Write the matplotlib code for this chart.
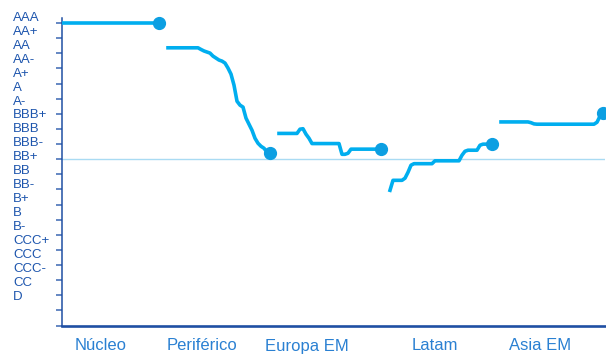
import matplotlib.pyplot as plt
from matplotlib.transforms import blended_transform_factory

# rating scale, notch 0 = AAA ... notch 20 = D
ratings = ["AAA", "AA+", "AA", "AA-", "A+", "A", "A-", "BBB+", "BBB", "BBB-",
           "BB+", "BB", "BB-", "B+", "B", "B-", "CCC+", "CCC", "CCC-", "CC", "D"]
regions = ["Núcleo", "Periférico", "Europa EM", "Latam", "Asia EM"]

# average rating (in notches) of each group, same number of points per group
nucleo = [0.0] * 35
periferico = [1.64, 1.64, 1.64, 1.64, 1.64, 1.64, 1.64, 1.64, 1.64, 1.64,
              1.64, 1.75, 1.85, 1.92, 1.99, 2.19, 2.32, 2.45, 2.52, 2.65,
              2.98, 3.38, 4.11, 5.17, 5.43, 5.56, 6.29, 6.69, 7.09, 7.62,
              7.95, 8.15, 8.28, 8.54, 8.61]
europa_em = [7.30, 7.30, 7.30, 7.30, 7.30, 7.30, 7.30, 7.02, 6.99, 7.35,
             7.62, 7.97, 7.97, 7.97, 7.97, 7.97, 7.97, 7.97, 7.97, 7.97,
             7.97, 8.68, 8.68, 8.61, 8.34, 8.34, 8.34, 8.34, 8.34, 8.34,
             8.34, 8.34, 8.34, 8.34, 8.34]
latam = [11.06, 10.40, 10.40, 10.40, 10.40, 10.26, 9.87, 9.40, 9.30, 9.30,
         9.30, 9.30, 9.30, 9.30, 9.30, 9.11, 9.11, 9.11, 9.11, 9.11,
         9.11, 9.11, 9.11, 9.11, 8.74, 8.48, 8.41, 8.41, 8.41, 8.41,
         8.08, 8.01, 8.01, 8.01, 8.01]
asia_em = [6.54, 6.54, 6.54, 6.54, 6.54, 6.54, 6.54, 6.54, 6.54, 6.54,
           6.59, 6.67, 6.69, 6.69, 6.69, 6.69, 6.69, 6.69, 6.69, 6.69,
           6.69, 6.69, 6.69, 6.69, 6.69, 6.69, 6.69, 6.69, 6.69, 6.69,
           6.69, 6.69, 6.56, 6.16, 5.96]
series = [nucleo, periferico, europa_em, latam, asia_em]

investment_grade = 9  # BBB-

LINE = "#00aeef"
DOT = "#0c9fe2"
AXIS = "#1f4fa3"

plt.rcParams["font.family"] = ["Liberation Sans", "DejaVu Sans"]

fig = plt.figure(figsize=(6.06, 3.54), dpi=100)
ax = fig.add_axes([62 / 606, 28 / 354, 543 / 606, 308 / 354])

slot = 37
for k, vals in enumerate(series):
    xs = [k * slot + i for i in range(len(vals))]
    ax.plot(xs, vals, color=LINE, lw=2.6, solid_joinstyle="round", zorder=3)
    ax.plot(xs[-1], vals[-1], "o", color=DOT, ms=8.5, zorder=4, clip_on=False)

ax.axhline(investment_grade, color="#a9dbf3", lw=1, zorder=1)

ax.set_xlim(5 / 3, 548 / 3)
ax.set_ylim(20.03, -0.33)

for side in ["top", "right"]:
    ax.spines[side].set_visible(False)
ax.spines["left"].set_color(AXIS)
ax.spines["left"].set_linewidth(1.1)
ax.spines["bottom"].set_color(AXIS)
ax.spines["bottom"].set_linewidth(1.9)

ax.set_yticks(range(len(ratings)))
ax.set_yticklabels([])
ax.tick_params(axis="y", length=4.5, width=1.1, color="#3a67b3")

# rating names sit on their own, slightly tighter, spacing
trans = blended_transform_factory(ax.transAxes, ax.transData)
for i, name in enumerate(ratings):
    ax.text(-0.0902, -0.33 + 0.9205 * i, name, transform=trans, ha="left",
            va="center", fontsize=9.5, color="#1d55ad")

label_pos = [14.5, 48.2, 83.3, 126, 161]
ax.set_xticks(label_pos, regions)
ax.tick_params(axis="x", length=0, pad=9, labelsize=12, labelcolor="#2a80d2")

fig.savefig("out.png", dpi=100)
